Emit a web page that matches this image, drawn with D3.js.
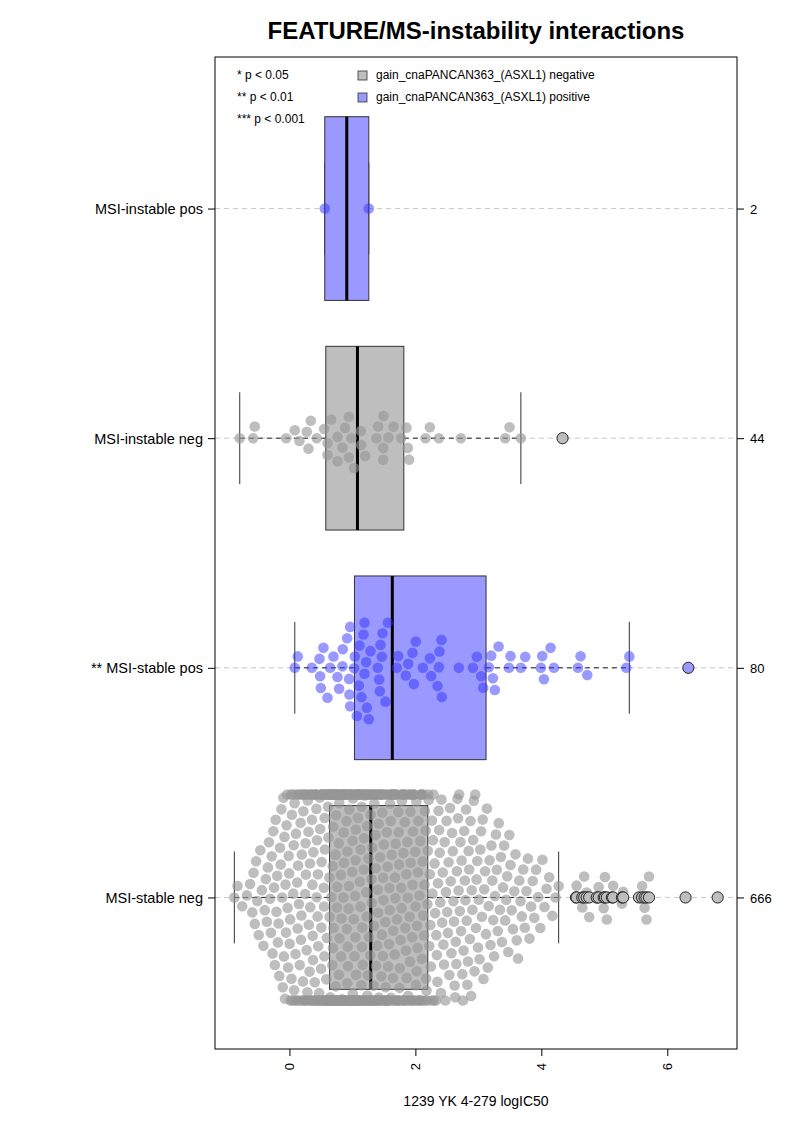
<!DOCTYPE html>
<html><head><meta charset="utf-8">
<script src="https://cdn.jsdelivr.net/npm/d3@7"></script>
<style>
body{margin:0;background:#fff}
svg{display:block}
text{font-family:"Liberation Sans",Arial,Helvetica,sans-serif;fill:#000}
</style>
</head><body>
<svg id="chart" width="793" height="1122"></svg>
<script>
// ---------------- data ----------------
// groups listed bottom -> top (R positions 1..4)
const groupLabels = ["MSI-stable neg", "** MSI-stable pos", "MSI-instable neg", "MSI-instable pos"];
const groupCounts = ["666", "80", "44", "2"];
const groupStatus = ["negative", "positive", "negative", "positive"];

const instablePosValues = [0.561, 1.260];

const instableNegValues = [
  -0.789, -0.577, -0.551, -0.053, 0.085, 0.159, 0.275, 0.302, 0.339, 0.434,
  0.551, 0.604, 0.604, 0.662, 0.763, 0.763, 0.842, 0.884, 0.943, 0.943,
  0.985, 1.027, 1.133, 1.139, 1.202, 1.382, 1.409, 1.488, 1.488, 1.494,
  1.573, 1.652, 1.774, 1.859, 1.880, 1.901, 2.161, 2.230, 2.373, 2.722,
  3.427, 3.495, 3.675, 4.337
];

const stablePosValues = [
  0.085, 0.132, 0.355, 0.477, 0.487, 0.498, 0.540, 0.604, 0.646, 0.699,
  0.763, 0.789, 0.842, 0.847, 0.916, 0.948, 0.953, 0.964, 0.964, 1.027,
  1.038, 1.070, 1.102, 1.112, 1.144, 1.176, 1.192, 1.192, 1.218, 1.229,
  1.260, 1.287, 1.403, 1.425, 1.435, 1.446, 1.467, 1.478, 1.525, 1.562,
  1.705, 1.727, 1.848, 1.885, 1.954, 1.975, 2.007, 2.118, 2.230, 2.251,
  2.351, 2.373, 2.383, 2.415, 2.420, 2.690, 2.913, 2.976, 3.045, 3.077,
  3.167, 3.204, 3.231, 3.262, 3.321, 3.485, 3.511, 3.675, 3.744, 3.993,
  4.014, 4.041, 4.147, 4.200, 4.581, 4.623, 4.729, 5.349, 5.397, 6.334
];

// MSI-stable neg (n = 666): too many points to read one by one, so counts per
// 0.1-wide bin (starting at -0.9) were read from the swarm's outline, plus the outliers.
const stableNegBinStart = -0.9;
const stableNegBinWidth = 0.1;
const stableNegBinCounts = [
  2, 1, 2, 5, 4, 6, 8, 9,             // -0.9 .. -0.1
  12, 14, 15, 17, 18, 20, 23,         // -0.1 .. 0.6
  28, 27, 26, 26, 25, 24, 23,         // 0.6 .. 1.3
  22, 21, 20, 19, 18, 17, 17, 16, 15, // 1.3 .. 2.2
  12, 11, 10, 9,                      // 2.2 .. 2.6
  11, 10, 10, 9, 8, 7, 7, 6, 6, 5, 5, 4, 4, 3, 3, 2, 2 // 2.6 .. 4.3
];
const stableNegOutliers = [
  4.55, 4.56, 4.65, 4.68, 4.72, 4.76, 4.88, 4.91, 4.99, 5.01, 5.04,
  5.12, 5.14, 5.28, 5.30, 5.55, 5.60, 5.64, 5.67, 5.71, 6.29, 6.80
];

const xTicks = [0, 2, 4, 6];
const legendP = ["* p < 0.05", "** p < 0.01", "*** p < 0.001"];
const legendGroups = ["gain_cnaPANCAN363_(ASXL1) negative", "gain_cnaPANCAN363_(ASXL1) positive"];
const titleText = "FEATURE/MS-instability interactions";
const xLabelText = "1239 YK 4-279 logIC50";

// expand bin counts into values (spread inside each bin)
const stableNegValues = [];
stableNegBinCounts.forEach((n, b) => {
  const a = stableNegBinStart + b * stableNegBinWidth;
  for (let j = 0; j < n; j++) stableNegValues.push(+(a + (j + 0.5) / n * stableNegBinWidth).toFixed(4));
});
stableNegOutliers.forEach(v => stableNegValues.push(v));

const groupValues = [stableNegValues, stablePosValues, instableNegValues, instablePosValues];

// ---------------- styles ----------------
const fills = {negative: "#BEBEBE", positive: "#9999FF"};
const pointCols = {negative: "rgba(150,150,150,0.62)", positive: "rgba(51,51,255,0.5)"};

// ---------------- layout ----------------
const svg = d3.select("#chart");
const plot = {left: 215, right: 737, top: 57, bottom: 1049};

const all = groupValues.flat();
const [mn, mx] = d3.extent(all);
const pad = (mx - mn) * 0.04;
const x = d3.scaleLinear().domain([mn - pad, mx + pad]).range([plot.left, plot.right]);
const y = d3.scaleLinear().domain([0.5 - 0.16, 4.5 + 0.16]).range([plot.bottom, plot.top]);
const unit = y(0) - y(1);
const boxH = unit * 0.8;
const S = 11.8;      // swarm spacing, px
const R = 5.3;       // point radius
const corral = unit / 2 - S;

function fivenum(a) {
  const s = a.slice().sort((p, q) => p - q), n = s.length;
  const n4 = Math.floor((n + 3) / 2) / 2;
  return [1, n4, (n + 1) / 2, n + 1 - n4, n].map(d => 0.5 * (s[Math.floor(d) - 1] + s[Math.ceil(d) - 1]));
}
function boxStats(a) {
  const f = fivenum(a), iqr = f[3] - f[1];
  const lo = f[1] - 1.5 * iqr, hi = f[3] + 1.5 * iqr;
  const inside = a.filter(v => v >= lo && v <= hi);
  return {q1: f[1], med: f[2], q3: f[3], wlo: d3.min(inside), whi: d3.max(inside),
          out: a.filter(v => v < lo || v > hi)};
}
function swarm(px) {
  const idx = d3.range(px.length).sort((a, b) => px[a] - px[b] || a - b);
  const xs = [], ys = [], res = new Array(px.length);
  for (const i of idx) {
    const xi = px[i] / S;
    const pre = [];
    for (let k = xs.length - 1; k >= 0; k--) { if (xi - xs[k] < 1) pre.push(k); else break; }
    let yv = 0;
    if (pre.length) {
      const offs = pre.map(k => Math.sqrt(1 - (xi - xs[k]) ** 2));
      const cand = [0].concat(pre.map((k, j) => ys[k] + offs[j]), pre.map((k, j) => ys[k] - offs[j]));
      let best = Infinity, bestAbs = Infinity;
      for (const c of cand) {
        let bad = false;
        for (const k of pre) { if ((xi - xs[k]) ** 2 + (c - ys[k]) ** 2 < 0.999) { bad = true; break; } }
        if (!bad && Math.abs(c) < bestAbs) { bestAbs = Math.abs(c); best = c; }
      }
      yv = best;
    }
    xs.push(xi); ys.push(yv); res[i] = yv * S;
  }
  return res;
}

// gridlines
const gGrid = svg.append("g");
groupValues.forEach((_, gi) => {
  gGrid.append("line").attr("x1", plot.left).attr("x2", plot.right)
    .attr("y1", y(gi + 1)).attr("y2", y(gi + 1))
    .attr("stroke", "#c8c8c8").attr("stroke-width", 1).attr("stroke-dasharray", "5,4");
});

// boxplots
const stats = groupValues.map(boxStats);
const gBox = svg.append("g");
stats.forEach((st, gi) => {
  const cy = y(gi + 1), col = fills[groupStatus[gi]];
  gBox.append("line").attr("x1", x(st.wlo)).attr("x2", x(st.q1)).attr("y1", cy).attr("y2", cy)
    .attr("stroke", "#222").attr("stroke-dasharray", "5,4");
  gBox.append("line").attr("x1", x(st.q3)).attr("x2", x(st.whi)).attr("y1", cy).attr("y2", cy)
    .attr("stroke", "#222").attr("stroke-dasharray", "5,4");
  [st.wlo, st.whi].forEach(v => {
    gBox.append("line").attr("x1", x(v)).attr("x2", x(v))
      .attr("y1", cy - boxH / 4).attr("y2", cy + boxH / 4).attr("stroke", "#333").attr("stroke-width", 1);
  });
  gBox.append("rect").attr("x", x(st.q1)).attr("y", cy - boxH / 2)
    .attr("width", x(st.q3) - x(st.q1)).attr("height", boxH)
    .attr("fill", col).attr("stroke", "#333").attr("stroke-width", 1);
  gBox.append("line").attr("x1", x(st.med)).attr("x2", x(st.med))
    .attr("y1", cy - boxH / 2).attr("y2", cy + boxH / 2).attr("stroke", "#000").attr("stroke-width", 3);
});

// beeswarm points
const gPts = svg.append("g");
groupValues.forEach((vals, gi) => {
  const offs = swarm(vals.map(v => x(v)));
  const cy = y(gi + 1);
  gPts.selectAll(null).data(vals.map((v, i) => ({v, o: Math.max(-corral, Math.min(corral, offs[i]))})))
    .join("circle")
    .attr("cx", d => x(d.v)).attr("cy", d => cy - d.o).attr("r", R)
    .attr("fill", pointCols[groupStatus[gi]]);
});

// outliers
const gOut = svg.append("g");
stats.forEach((st, gi) => {
  gOut.selectAll(null).data(st.out).join("circle")
    .attr("cx", d => x(d)).attr("cy", y(gi + 1)).attr("r", 5.6)
    .attr("fill", fills[groupStatus[gi]]).attr("stroke", "#111").attr("stroke-width", 0.9);
});

// frame
svg.append("rect").attr("x", plot.left).attr("y", plot.top)
  .attr("width", plot.right - plot.left).attr("height", plot.bottom - plot.top)
  .attr("fill", "none").attr("stroke", "#000").attr("stroke-width", 1);

// bottom axis
const xAxis = d3.axisBottom(x).tickValues(xTicks).tickSize(7).tickFormat(d3.format("d"));
const gx = svg.append("g").attr("transform", `translate(0,${plot.bottom})`).call(xAxis);
gx.select(".domain").remove();
gx.selectAll(".tick line").attr("stroke", "#000");
gx.selectAll(".tick text")
  .attr("font-size", 13).attr("font-family", "Liberation Sans, Arial, sans-serif")
  .attr("text-anchor", "end").attr("transform", "rotate(-90)")
  .attr("x", -14).attr("y", 0).attr("dy", "0.35em");

// left axis
const yAxisL = d3.axisLeft(y).tickValues([1, 2, 3, 4]).tickSize(7).tickFormat((d, i) => groupLabels[i]);
const gyl = svg.append("g").attr("transform", `translate(${plot.left},0)`).call(yAxisL);
gyl.select(".domain").remove();
gyl.selectAll(".tick line").attr("stroke", "#000");
gyl.selectAll(".tick text").attr("font-size", 14.5).attr("x", -12).attr("dy", "0.35em")
  .attr("font-family", "Liberation Sans, Arial, sans-serif");

// right axis
const yAxisR = d3.axisRight(y).tickValues([1, 2, 3, 4]).tickSize(7).tickFormat((d, i) => groupCounts[i]);
const gyr = svg.append("g").attr("transform", `translate(${plot.right},0)`).call(yAxisR);
gyr.select(".domain").remove();
gyr.selectAll(".tick line").attr("stroke", "#000");
gyr.selectAll(".tick text").attr("font-size", 13).attr("x", 13).attr("dy", "0.35em")
  .attr("font-family", "Liberation Sans, Arial, sans-serif");

// title and axis label
svg.append("text").attr("x", (plot.left + plot.right) / 2).attr("y", 39)
  .attr("text-anchor", "middle").attr("font-size", 24).attr("font-weight", "bold").text(titleText);
svg.append("text").attr("x", (plot.left + plot.right) / 2).attr("y", 1106)
  .attr("text-anchor", "middle").attr("font-size", 14).text(xLabelText);

// legends
legendP.forEach((t, i) => {
  svg.append("text").attr("x", 237).attr("y", 79 + i * 22).attr("font-size", 12).text(t);
});
legendGroups.forEach((t, i) => {
  svg.append("rect").attr("x", 358).attr("y", 71 + i * 22).attr("width", 9).attr("height", 9)
    .attr("fill", fills[i === 0 ? "negative" : "positive"]).attr("stroke", "#333").attr("stroke-width", 0.8);
  svg.append("text").attr("x", 376).attr("y", 79 + i * 22).attr("font-size", 12).text(t);
});
</script>
</body></html>
